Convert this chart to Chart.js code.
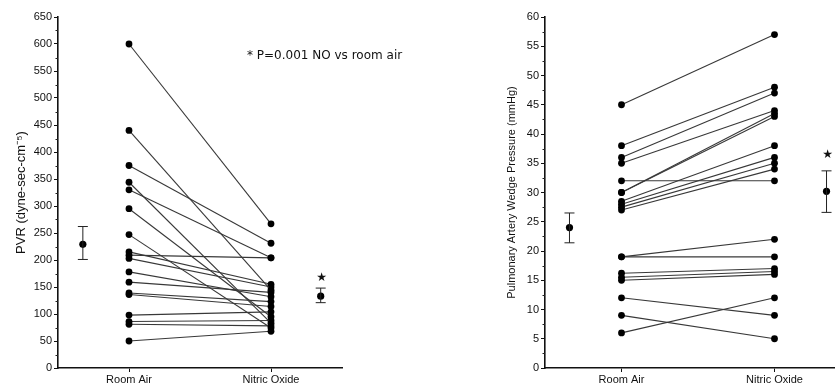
<!DOCTYPE html>
<html><head><meta charset="utf-8">
<script src="https://cdn.jsdelivr.net/npm/chart.js@4.4.1/dist/chart.umd.min.js"></script>
<style>
html,body{margin:0;padding:0;background:#fff;overflow:hidden;width:835px;height:389px;}
#wrap{position:relative;width:835px;height:389px;overflow:hidden;}
#c1{position:absolute;left:0;top:0;}
#c2{position:absolute;left:415px;top:0;}
#note{position:absolute;left:247px;top:48px;font:12px "DejaVu Sans";color:#111;white-space:nowrap;}
</style></head><body>
<div id="wrap">
<canvas id="c1" width="415" height="389"></canvas>
<canvas id="c2" width="440" height="389"></canvas>
<div id="note">* P=0.001 NO vs room air</div>
</div>
<script>
const categories = ['Room Air', 'Nitric Oxide'];

// PVR (dyne-sec-cm-5), one entry per patient
const pvrRoomAir      = [600, 440, 375, 344, 330, 295, 247, 215, 209, 203, 178, 159, 139, 136, 98, 86, 81, 50];
const pvrNitricOxide  = [267, 144, 231, 83, 204, 95, 74, 155, 204, 150, 132, 140, 123, 114, 104, 88, 78, 68];
const pvrMean = [229, 133];
const pvrLow  = [201, 121];
const pvrHigh = [262, 148];
const pvrTickStep = 50;
const pvrMax = 650;

// Pulmonary artery wedge pressure (mmHg)
const pawpRoomAir     = [45, 38, 36, 35, 32, 30, 30, 28.5, 28, 27.5, 27, 19, 19, 16.2, 15.5, 15, 12, 9, 6];
const pawpNitricOxide = [57, 48, 47, 44, 32, 43.5, 43, 38, 36, 35, 34, 22, 19, 17, 16.5, 16, 9, 5, 12];
const pawpMean = [24, 30.2];
const pawpLow  = [21.4, 26.6];
const pawpHigh = [26.5, 33.7];
const pawpTickStep = 5;
const pawpMax = 60;

const catX = [1, 3];

const summaryPlugin = {
  id: 'summary',
  afterDatasetsDraw(chart, args, opts) {
    const {ctx} = chart;
    const x = chart.scales.x, y = chart.scales.y;
    ctx.save();
    ctx.strokeStyle = '#222';
    ctx.lineWidth = 1;
    // minor ticks (shorter than the major ones)
    y.ticks.forEach(t => {
      if (!isMajor(t.value, opts.step)) {
        const py = Math.round(y.getPixelForValue(t.value)) + 0.5;
        ctx.beginPath();
        ctx.moveTo(y.right - 2.5, py); ctx.lineTo(y.right, py);
        ctx.stroke();
      }
    });
    opts.xs.forEach((xv, i) => {
      const px = x.getPixelForValue(xv);
      const top = y.getPixelForValue(opts.high[i]);
      const bot = y.getPixelForValue(opts.low[i]);
      ctx.beginPath();
      ctx.moveTo(px, top); ctx.lineTo(px, bot);
      ctx.moveTo(px - 5, top); ctx.lineTo(px + 5, top);
      ctx.moveTo(px - 5, bot); ctx.lineTo(px + 5, bot);
      ctx.stroke();
    });
    ctx.fillStyle = '#111';
    ctx.font = '12px "DejaVu Sans"';
    ctx.textAlign = 'center';
    ctx.textBaseline = 'middle';
    ctx.fillText('★', x.getPixelForValue(opts.starX) + 1, y.getPixelForValue(opts.starY));
    ctx.restore();
  }
};

function isMajor(v, step) {
  return Math.abs(v / step - Math.round(v / step)) < 1e-6;
}

function makeChart(id, c) {
  const subjects = c.ra.map((v, i) => ({
    data: [{x: catX[0], y: v}, {x: catX[1], y: c.no[i]}],
    showLine: true,
    borderColor: '#383838',
    borderWidth: 1.1,
    pointRadius: 3.4,
    pointBackgroundColor: '#000',
    pointBorderColor: '#000',
    pointBorderWidth: 0
  }));
  const means = {
    data: c.meanX.map((xv, i) => ({x: xv, y: c.mean[i]})),
    showLine: false,
    pointRadius: 3.6,
    pointBackgroundColor: '#000',
    pointBorderColor: '#000',
    pointBorderWidth: 0
  };
  return new Chart(document.getElementById(id), {
    type: 'scatter',
    data: {datasets: [...subjects, means]},
    options: {
      responsive: false,
      animation: false,
      events: [],
      layout: {padding: {top: 17, left: c.padLeft, right: c.padRight, bottom: 0}},
      plugins: {
        legend: {display: false},
        tooltip: {enabled: false},
        summary: {xs: c.meanX, low: c.low, high: c.high, starX: c.meanX[1], starY: c.starY, step: c.step}
      },
      scales: {
        x: {
          type: 'linear', min: 0, max: 4,
          afterBuildTicks: s => { s.ticks = catX.map(v => ({value: v})); },
          afterFit: s => { s.height = 21; },
          ticks: {
            callback: v => v === catX[0] ? categories[0] : (v === catX[1] ? categories[1] : ''),
            autoSkip: false, maxRotation: 0, padding: 1,
            font: {family: 'Liberation Sans', size: 11}, color: '#111'
          },
          grid: {drawOnChartArea: false, drawTicks: true, tickLength: 4, color: '#111'},
          border: {display: true, color: '#111', width: 1.6}
        },
        y: {
          type: 'linear', min: 0, max: c.max,
          afterBuildTicks: s => {
            const t = [];
            for (let k = 0; k <= c.max / (c.step / 2) + 1e-9; k++) t.push({value: +(k * c.step / 2).toFixed(3)});
            s.ticks = t;
          },
          afterFit: s => { s.width = c.yWidth; },
          ticks: {
            callback: v => (isMajor(v, c.step) ? String(v) : ''),
            autoSkip: false, padding: 2,
            font: {family: 'Liberation Sans', size: 11}, color: '#111'
          },
          grid: {
            drawOnChartArea: false, drawTicks: true, tickLength: 4,
            tickColor: ctx => (ctx.tick && isMajor(ctx.tick.value, c.step) ? '#111' : 'rgba(0,0,0,0)')
          },
          border: {display: true, color: '#111', width: 1.6},
          title: {
            display: true, text: c.title, color: '#111',
            font: {family: 'Liberation Sans', size: c.titleSize},
            padding: {top: c.titlePad, bottom: 0}
          }
        }
      }
    },
    plugins: [summaryPlugin]
  });
}

makeChart('c1', {
  ra: pvrRoomAir, no: pvrNitricOxide, mean: pvrMean, low: pvrLow, high: pvrHigh,
  meanX: [0.35, 3.7], starY: 167, max: pvrMax, step: pvrTickStep,
  padLeft: 0, padRight: 73, yWidth: 58,
  title: 'PVR (dyne-sec-cm⁻⁵)', titleSize: 13, titlePad: 14
});
makeChart('c2', {
  ra: pawpRoomAir, no: pawpNitricOxide, mean: pawpMean, low: pawpLow, high: pawpHigh,
  meanX: [0.32, 3.68], starY: 36.5, max: pawpMax, step: pawpTickStep,
  padLeft: 80, padRight: 2, yWidth: 50,
  title: 'Pulmonary Artery Wedge Pressure (mmHg)', titleSize: 11, titlePad: 10
});
</script>
</body></html>
